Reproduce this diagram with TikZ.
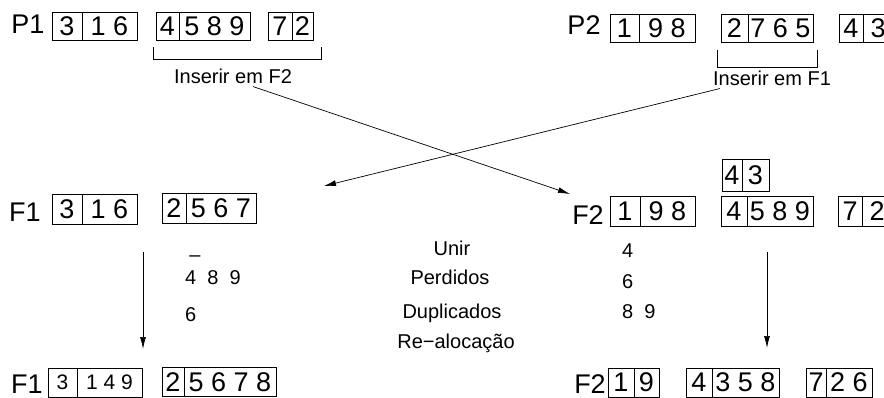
\documentclass[tikz,border=0pt]{standalone}
\usepackage{fontspec}
\setmainfont{Liberation Sans}
\usetikzlibrary{arrows.meta,positioning}

\newcommand{\bigdig}{\fontsize{27}{31}\selectfont}
\newcommand{\smalltxt}{\fontsize{20}{24}\selectfont}

\begin{document}
\begin{tikzpicture}[x=1pt,y=-1pt,
    cell/.style={draw,line width=0.7pt,inner sep=0pt,outer sep=0pt,minimum height=28pt,anchor=west,font=\bigdig},
    lbl/.style={inner sep=0pt,anchor=base,font=\bigdig},
    note/.style={inner sep=0pt,font=\smalltxt},
    arr/.style={-{Latex[length=12pt,width=6pt]},line width=0.7pt}]
    \useasboundingbox (0,0) rectangle (884,398);

    % parent P1
    \node[lbl] (p1) at (28,34) {P1};
    \node[cell,minimum width=30pt] (p1a) at (52,26.5) {3};
    \node[cell,minimum width=55pt] (p1b) at (p1a.east) {1 6};
    \node[cell,minimum width=23pt] (p1c) at (156,26.5) {4};
    \node[cell,minimum width=71pt] (p1d) at (p1c.east) {5 8 9};
    \node[cell,minimum width=24pt] (p1e) at (268,26.5) {7};
    \node[cell,minimum width=21pt] (p1f) at (p1e.east) {2};
    \draw[line width=0.7pt] (153,47) |- (321,59) -- (321,47);
    \node[note] (ins2) at (233,76) {Inserir em F2};

    % parent P2
    \node[lbl] (p2) at (584,35) {P2};
    \node[cell,minimum width=29pt] (p2a) at (610,28) {1};
    \node[cell,minimum width=56pt] (p2b) at (p2a.east) {9 8};
    \node[cell,minimum width=27pt] (p2c) at (721,28) {2};
    \node[cell,minimum width=65pt] (p2d) at (p2c.east) {7 6 5};
    \node[cell,minimum width=24pt] (p2e) at (839,28) {4};
    \node[cell,minimum width=30pt] (p2f) at (p2e.east) {3};
    \draw[line width=0.7pt] (717,50) |- (817,67) -- (817,50);
    \node[note] (ins1) at (772,78) {Inserir em F1};

    % crossing insertions
    \coordinate (tof2) at (570,194);
    \coordinate (tof1) at (324,186);
    \draw[arr] ([xshift=20pt,yshift=-3pt]ins2.south) -- (tof2);
    \draw[arr] ([xshift=7pt,yshift=-3pt]ins1.south west) -- (tof1);

    % child F1
    \node[lbl] (f1) at (25,222) {F1};
    \node[cell,minimum height=30pt,minimum width=30pt] (f1a) at (52,209) {3};
    \node[cell,minimum height=30pt,minimum width=55pt] (f1b) at (f1a.east) {1 6};
    \node[cell,minimum height=30pt,minimum width=24pt] (f1c) at (162,208.5) {2};
    \node[cell,minimum height=30pt,minimum width=70pt] (f1d) at (f1c.east) {5 6 7};

    % child F2
    \node[lbl] (f2) at (588,225) {F2};
    \node[cell,minimum height=30pt,minimum width=30pt] (f2a) at (610,211) {1};
    \node[cell,minimum height=30pt,minimum width=55pt] (f2b) at (f2a.east) {9 8};
    \node[cell,minimum height=30pt,minimum width=26pt] (f2c) at (721,211) {4};
    \node[cell,minimum height=30pt,minimum width=66pt] (f2d) at (f2c.east) {5 8 9};
    \node[cell,minimum height=30pt,minimum width=24pt] (f2e) at (838,211) {7};
    \node[cell,minimum height=30pt,minimum width=30pt] (f2f) at (f2e.east) {2};
    \node[cell,minimum height=32pt,minimum width=20pt] (f2g) at (722,175) {4};
    \node[cell,minimum height=32pt,minimum width=27pt] (f2h) at (f2g.east) {3};

    % union, lost and duplicated genes
    \node[note,anchor=base] (m0) at (195,261.5) {–};
    \node[note,anchor=base west] (m1) at (185,285) {4\ \ 8\ \ 9};
    \node[note,anchor=base west] (m2) at (185,321) {6};
    \node[note,anchor=base] (unir) at (452,256) {Unir};
    \node[note,anchor=base] (perd) at (450,285) {Perdidos};
    \node[note,anchor=base] (dupl) at (452,318) {Duplicados};
    \node[note,anchor=base] (realoc) at (456,348) {Re−alocação};
    \node[note,anchor=base west] (n1) at (622,258) {4};
    \node[note,anchor=base west] (n2) at (622,288) {6};
    \node[note,anchor=base west] (n3) at (622,318) {8\ \ 9};

    \coordinate (l1) at (143,252);
    \coordinate (l2) at (143,349);
    \coordinate (r1) at (767,252);
    \coordinate (r2) at (767,348);
    \draw[arr] (l1) -- (l2);
    \draw[arr] (r1) -- (r2);

    % repaired F1
    \node[lbl] (g1) at (27,393) {F1};
    \node[cell,minimum height=29pt,minimum width=29pt,font=\fontsize{21}{25}\selectfont] (g1a) at (48,382.5) {3};
    \node[cell,minimum height=29pt,minimum width=65pt,font=\fontsize{21}{25}\selectfont] (g1b) at (g1a.east) {1 4 9};
    \node[cell,minimum height=29pt,minimum width=22pt] (g1c) at (162,382) {2};
    \node[cell,minimum height=29pt,minimum width=92pt] (g1d) at (g1c.east) {5 6 7 8};

    % repaired F2
    \node[lbl] (g2) at (590,393) {F2};
    \node[cell,minimum height=29pt,minimum width=26pt] (g2a) at (608,382.5) {1};
    \node[cell,minimum height=29pt,minimum width=25pt] (g2b) at (g2a.east) {9};
    \node[cell,minimum height=29pt,minimum width=26pt] (g2c) at (686,382.5) {4};
    \node[cell,minimum height=29pt,minimum width=67pt] (g2d) at (g2c.east) {3 5 8};
    \node[cell,minimum height=29pt,minimum width=20pt] (g2e) at (806,382.5) {7};
    \node[cell,minimum height=29pt,minimum width=46pt] (g2f) at (g2e.east) {2 6};
\end{tikzpicture}
\end{document}
